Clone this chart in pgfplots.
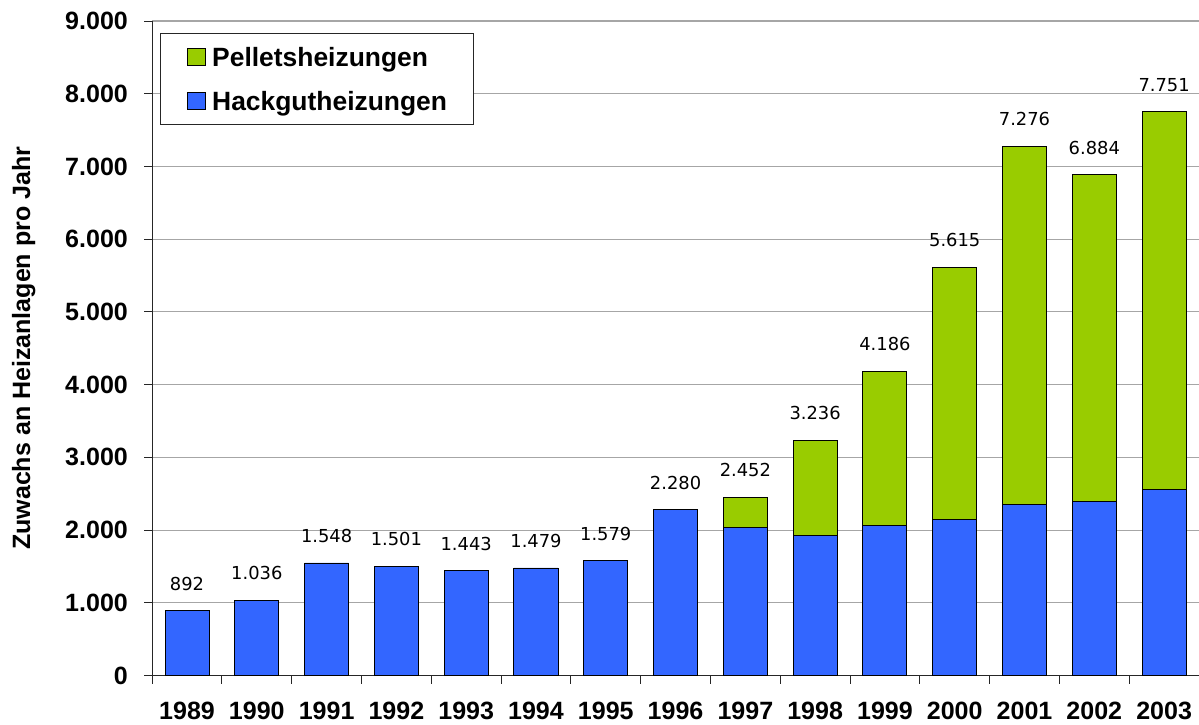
\documentclass[border=0pt]{standalone}
\usepackage{fontspec}
\setmainfont{Liberation Sans}
\newfontfamily\dejavu{DejaVu Sans}
\usepackage{pgfplots}
\usepackage{pgfplotstable}
\pgfplotsset{compat=1.18}

\definecolor{HackBlue}{HTML}{3366FF}
\definecolor{PelletGreen}{HTML}{99CC00}
\definecolor{GridGray}{HTML}{A6A6A6}

\pgfplotsset{sqlegend/.style={legend image code/.code={\draw[##1] (0pt,-6.5pt) rectangle (13pt,6.5pt);}}}

% x: category index, hack: Hackgut, pell: Pellets, total: sum
\pgfplotstableread{
x hack pell total
0  892    0    892
1  1036   0    1036
2  1548   0    1548
3  1501   0    1501
4  1443   0    1443
5  1479   0    1479
6  1579   0    1579
7  2280   0    2280
8  2030   422  2452
9  1920   1316 3236
10 2060   2126 4186
11 2150   3465 5615
12 2355   4921 7276
13 2400   4484 6884
14 2555   5196 7751
}\heizdata

\newcommand{\bigbold}{\fontsize{18.75}{22}\selectfont\bfseries}

\begin{document}
\begin{tikzpicture}
\begin{axis}[
  name=ax,
  scale only axis,
  width=784.5pt,
  height=490.5pt,
  ybar stacked,
  bar width=33pt,
  xmin=-0.5, xmax=14.5,
  ymin=0, ymax=9000,
  xtick={-0.5,0.5,...,14.5},
  x tick label as interval,
  xticklabels={1989,1990,1991,1992,1993,1994,1995,1996,1997,1998,1999,2000,2001,2002,2003},
  ytick={0,1000,...,9000},
  /pgf/number format/.cd, 1000 sep={.}, assume math mode=true, /pgfplots/.cd,
  axis x line*=bottom,
  axis y line*=left,
  axis line style={black!85, line width=0.9pt},
  tick align=outside,
  major tick length=6pt,
  tick style={black!85, line width=0.7pt},
  ymajorgrids=true,
  grid style={GridGray, line width=0.8pt},
  tick label style={font=\bigbold},
  yticklabel style={anchor=east, inner sep=0pt, xshift=-12pt},
  xticklabel style={anchor=north, inner sep=0pt, yshift=-14pt},
  ylabel={Zuwachs an Heizanlagen pro Jahr},
  ylabel style={font=\bigbold, at={(rel axis cs:0,0.5)}, anchor=base, yshift=91.5pt},
  legend cell align=left,
  legend style={at={(rel axis cs:0.0076,0.9817)}, anchor=north west,
    draw=black!85, line width=0.7pt, fill=white,
    font=\fontsize{19.8}{23}\selectfont\bfseries,
    inner xsep=20pt, inner ysep=10.5pt, row sep=19pt,
    nodes={inner sep=0pt, text height=14pt, text depth=0pt},
    /tikz/every odd column/.append style={column sep=5pt}},
  reverse legend,
]
\addplot[fill=HackBlue, draw=black, line width=0.7pt, sqlegend]
  table[x=x, y=hack] {\heizdata};
\addplot[fill=PelletGreen, draw=black, line width=0.7pt, sqlegend]
  table[x=x, y=pell] {\heizdata};
\legend{Hackgutheizungen, Pelletsheizungen}
\end{axis}
% totals above the bars, same frame as the bar axis
\begin{axis}[
  scale only axis,
  width=784.5pt,
  height=490.5pt,
  xmin=-0.5, xmax=14.5,
  ymin=0, ymax=9000,
  hide axis,
]
\addplot[draw=none, mark=none, point meta=explicit,
  nodes near coords={\pgfmathprintnumber{\pgfplotspointmeta}},
  nodes near coords style={font=\dejavu\fontsize{13.4}{15}\selectfont, text=black,
    anchor=south, inner sep=0pt, yshift=15pt,
    /pgf/number format/.cd, 1000 sep={.}, assume math mode=true}]
  table[x=x, y=total, meta=total] {\heizdata};
\end{axis}
\pgfresetboundingbox
\useasboundingbox ([xshift=-114pt, yshift=-36.75pt]ax.south west) rectangle ([yshift=15.75pt]ax.north east);
\end{tikzpicture}
\end{document}
